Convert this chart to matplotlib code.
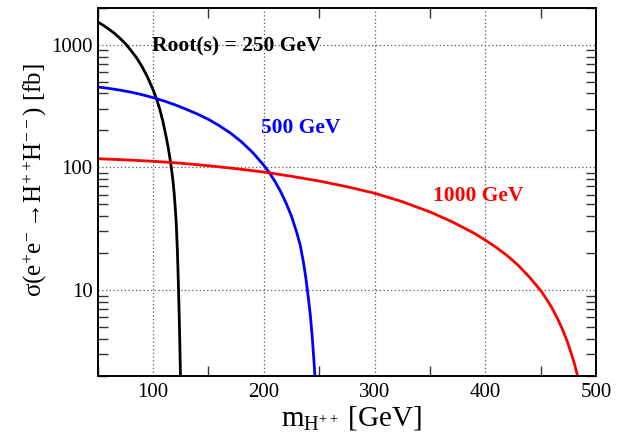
import matplotlib
matplotlib.use("Agg")
import matplotlib.pyplot as plt
from matplotlib.ticker import FixedLocator, NullFormatter, LogLocator

# ---- data ----
black_m = [50, 55, 60, 65, 70, 75, 80, 85, 90, 95, 100, 103, 106, 109, 112, 114, 116,
           118, 119, 120, 121, 122, 122.5, 123, 123.5, 124, 124.4, 124.8, 125]
black_s = [1530, 1440, 1340, 1240, 1130, 1020, 900, 785, 665, 545, 430, 365, 300, 235,
           175, 140, 108, 78, 63, 48, 35, 21, 15, 10.5, 7, 4.5, 3.0, 2.0, 1.2]

blue_m = [50, 60, 70, 80, 90, 100, 110, 120, 130, 140, 150, 160, 170, 180, 190, 200,
          205, 210, 215, 220, 225, 230, 233, 236, 238, 240, 242, 244, 245.5, 247]
blue_s = [452, 440, 426, 410, 391, 370, 347, 323, 297, 272, 246, 218, 190, 161, 132, 104,
          90.5, 77, 64, 51.5, 40, 29, 23, 16.5, 12.5, 9, 6.3, 3.9, 2.5, 1.5]

red_m = [50, 75, 100, 125, 150, 175, 200, 225, 250, 275, 300, 325, 350, 370, 390, 400,
         410, 420, 430, 440, 450, 455, 460, 465, 470, 475, 480, 483, 486]
red_s = [117.5, 115, 112, 108, 103, 97.5, 91.5, 84.5, 77.3, 69.5, 61.5, 52.5, 43.3, 36,
         29, 25.5, 22.2, 19, 15.8, 12.7, 9.9, 8.5, 7.2, 5.9, 4.7, 3.6, 2.6, 2.05, 1.5]

x_major = [100, 200, 300, 400, 500]
x_minor = [50, 150, 250, 350, 450]
y_major = [10, 100, 1000]
y_labels = ["10", "100", "1000"]

labels = ["Root(s) = 250 GeV", "500 GeV", "1000 GeV"]
label_pos = [(98.8, 872), (197.3, 190), (353.1, 53.6)]
colors = ["black", "#0000ff", "#ff0000"]

plt.rcParams['font.family'] = ['Liberation Serif', 'DejaVu Serif']
plt.rcParams['mathtext.fontset'] = 'custom'
plt.rcParams['mathtext.rm'] = 'Liberation Serif'
plt.rcParams['mathtext.it'] = 'Liberation Serif'
plt.rcParams['mathtext.bf'] = 'Liberation Serif:bold'

fig = plt.figure(figsize=(6.27, 4.33), dpi=100)
ax = fig.add_axes([0.1557, 0.1323, 0.7949, 0.8499])

for m, s, c in zip([black_m, blue_m, red_m], [black_s, blue_s, red_s], colors):
    ax.plot(m, s, color=c, lw=2.0, solid_joinstyle='round')

ax.set_xlim(50, 500)
ax.set_yscale('log')
ax.set_ylim(2, 2000)

ax.xaxis.set_major_locator(FixedLocator(x_major))
ax.xaxis.set_minor_locator(FixedLocator(x_minor))
ax.set_xticklabels([str(v) for v in x_major])
ax.yaxis.set_major_locator(FixedLocator(y_major))
ax.set_yticklabels(y_labels)
ax.yaxis.set_minor_locator(LogLocator(base=10, subs=[2, 3, 4, 5, 6, 7, 8, 9]))
ax.yaxis.set_minor_formatter(NullFormatter())

ax.tick_params(which='major', length=0, labelsize=15)
ax.tick_params(axis='x', which='major', pad=5.5)
ax.tick_params(axis='y', which='major', pad=3.5)
ax.tick_params(which='minor', direction='in', length=7.5, width=1.0,
               top=True, right=True, bottom=True, left=True, color='0.2')

ax.grid(True, which='major', linestyle=(0, (1, 2)), color='0.35', lw=0.9)
for sp in ax.spines.values():
    sp.set_linewidth(1.4)

for t, (x, y), c in zip(labels, label_pos, colors):
    ax.text(x, y, t, color=c, fontsize=15.5, fontweight='bold', ha='left', va='baseline')

fig.text(351.5/627, 1 - 426/433, r'm$_{\mathrm{H}^{++}}$ [GeV]', fontsize=21,
         ha='center', va='baseline')
fig.text(41.7/627, 1 - 180/433,
         r'$\sigma(\mathrm{e}^{\!+}\!\mathrm{e}^{\!-}\!\rightarrow\!\mathrm{H}^{\!+\!+}\!\mathrm{H}^{\!-\!-})$ [fb]',
         fontsize=18, rotation=90, rotation_mode='anchor', ha='center', va='baseline')

fig.savefig('out.png', dpi=100)
